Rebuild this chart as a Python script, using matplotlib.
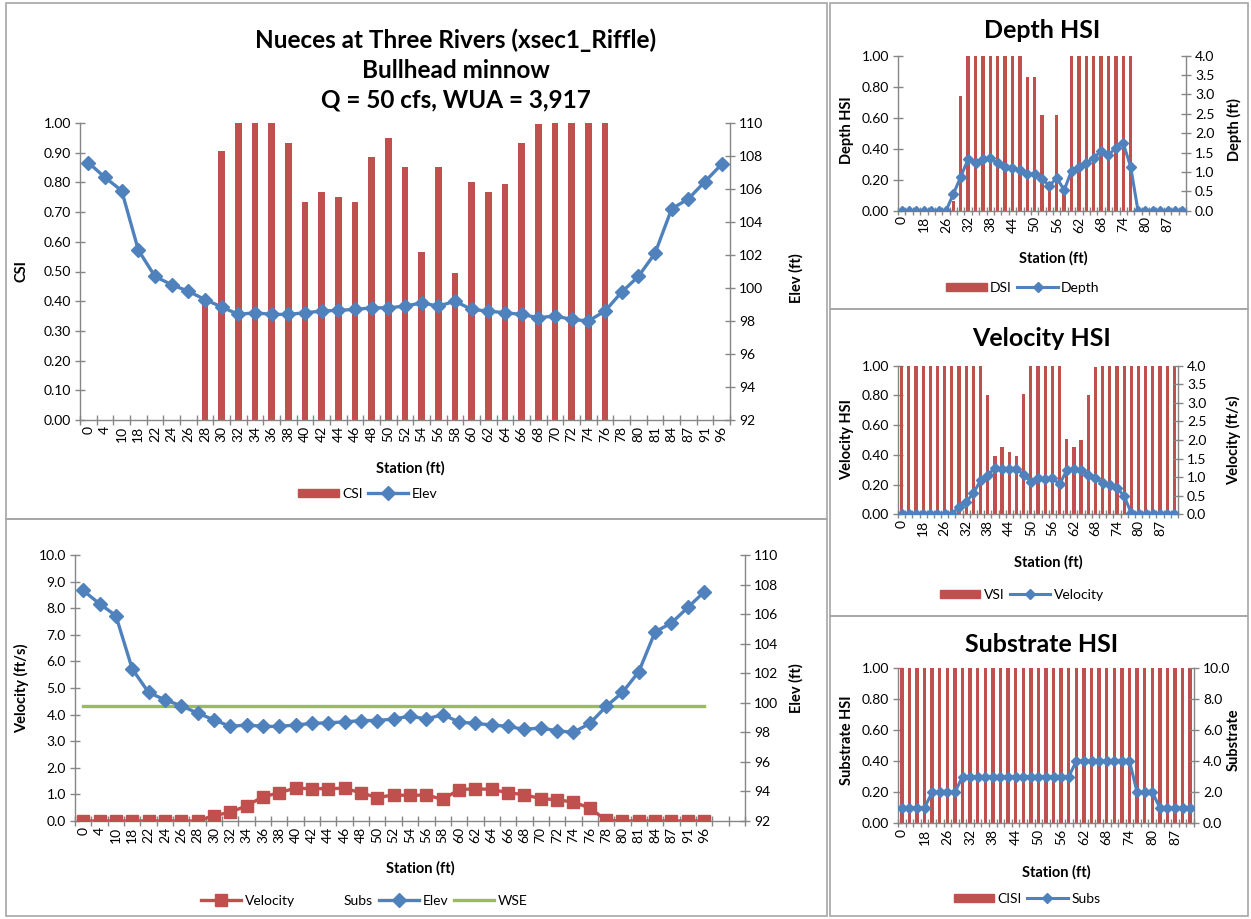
import matplotlib
matplotlib.use("Agg")
import matplotlib.pyplot as plt
import numpy as np
from matplotlib.patches import Rectangle, Patch
from matplotlib.lines import Line2D

# ---------------- data ----------------
stations = ["0", "4", "10", "18", "22", "24", "26", "28", "30", "32", "34", "36", "38",
            "40", "42", "44", "46", "48", "50", "52", "54", "56", "58", "60", "62", "64",
            "66", "68", "70", "72", "74", "76", "78", "80", "81", "84", "87", "91", "96"]

elev = [107.6, 106.7, 105.9, 102.3, 100.7, 100.2, 99.8, 99.3, 98.85, 98.4, 98.5, 98.4, 98.4,
        98.5, 98.6, 98.65, 98.7, 98.8, 98.8, 98.9, 99.1, 98.9, 99.2, 98.7, 98.6, 98.5,
        98.4, 98.2, 98.3, 98.1, 98.0, 98.6, 99.75, 100.7, 102.1, 104.8, 105.4, 106.45, 107.5]

csi = [0, 0, 0, 0, 0, 0, 0, 0.39, 0.905, 1.0, 1.0, 1.0, 0.933,
       0.733, 0.767, 0.75, 0.733, 0.886, 0.951, 0.851, 0.566, 0.851, 0.494, 0.803, 0.766, 0.794,
       0.932, 0.997, 1.0, 1.0, 1.0, 1.0, 0, 0, 0, 0, 0, 0, 0]

dsi = [0, 0, 0, 0, 0, 0, 0, 0.06, 0.74, 1.0, 1.0, 1.0, 1.0,
       1.0, 1.0, 1.0, 1.0, 0.86, 0.86, 0.62, 0.18, 0.62, 0.12, 1.0, 1.0, 1.0,
       1.0, 1.0, 1.0, 1.0, 1.0, 1.0, 0, 0, 0, 0, 0, 0, 0]

depth = [0, 0, 0, 0, 0, 0, 0, 0.43, 0.88, 1.33, 1.24, 1.33, 1.35,
         1.22, 1.14, 1.09, 1.05, 0.94, 0.95, 0.83, 0.64, 0.85, 0.53, 1.03, 1.14, 1.24,
         1.35, 1.55, 1.43, 1.63, 1.74, 1.14, 0, 0, 0, 0, 0, 0, 0]

vsi = [1.0, 1.0, 1.0, 1.0, 1.0, 1.0, 1.0, 1.0, 1.0, 1.0, 1.0, 1.0, 0.80,
       0.39, 0.45, 0.42, 0.39, 0.81, 1.0, 1.0, 1.0, 1.0, 1.0, 0.51, 0.45, 0.50,
       0.80, 0.99, 1.0, 1.0, 1.0, 1.0, 1.0, 1.0, 1.0, 1.0, 1.0, 1.0, 1.0]

velocity = [0, 0, 0, 0, 0, 0, 0, 0, 0.2, 0.33, 0.57, 0.91, 1.06,
            1.24, 1.21, 1.22, 1.23, 1.06, 0.88, 0.98, 0.96, 0.98, 0.81, 1.18, 1.21, 1.19,
            1.06, 0.99, 0.84, 0.80, 0.71, 0.49, 0.03, 0, 0, 0, 0, 0, 0]

cisi = [1.0, 1.0, 1.0, 1.0, 1.0, 1.0, 1.0, 1.0, 1.0, 1.0, 1.0, 1.0, 1.0,
        1.0, 1.0, 1.0, 1.0, 1.0, 1.0, 1.0, 1.0, 1.0, 1.0, 1.0, 1.0, 1.0,
        1.0, 1.0, 1.0, 1.0, 1.0, 1.0, 1.0, 1.0, 1.0, 1.0, 1.0, 1.0, 1.0]

subs = [1, 1, 1, 1, 2, 2, 2, 2, 3, 3, 3, 3, 3,
        3, 3, 3, 3, 3, 3, 3, 3, 3, 3, 4, 4, 4,
        4, 4, 4, 4, 4, 2, 2, 2, 1, 1, 1, 1, 1]

wse = 99.77

title_lines = ["Nueces at Three Rivers (xsec1_Riffle)", "Bullhead minnow",
               "Q = 50 cfs, WUA = 3,917"]

# ---------------- styling ----------------
RED = "#C0504D"
BLUE = "#4F81BD"
GREEN = "#9BBB59"
AXC = "#868686"
BORDER = "#A6A6A6"
FONT = ["Lato", "DejaVu Sans"]
plt.rcParams["font.family"] = FONT

W, H = 1251, 919
fig = plt.figure(figsize=(W / 100, H / 100), dpi=100)
fig.patch.set_facecolor("white")


def fx(px):
    return px / W


def fy(py):
    return 1 - py / H


def add_axes(x0, y0, x1, y1):
    return fig.add_axes([fx(x0), fy(y1), fx(x1) - fx(x0), (y1 - y0) / H])


def style_axes(ax, ax2, ncat, labels, every=1, fs=10):
    for a in (ax, ax2):
        a.set_facecolor("none")
        a.spines["top"].set_visible(False)
        for s in ("left", "right", "bottom"):
            a.spines[s].set_color(AXC)
            a.spines[s].set_linewidth(1.0)
        a.tick_params(axis="y", colors="black", labelsize=fs, direction="inout",
                      length=7, width=1, color=AXC, pad=3)
    ax.spines["right"].set_visible(False)
    ax2.spines["left"].set_visible(False)
    ax2.spines["bottom"].set_visible(False)
    ax.set_xlim(-0.5, ncat - 0.5)
    centers = np.arange(ncat)
    shown = [i for i in centers if i % every == 0]
    ax.set_xticks(shown)
    ax.set_xticklabels([labels[i] if i < len(labels) else "" for i in shown],
                       rotation=90, fontsize=fs)
    ax.set_xticks(np.arange(ncat + 1) - 0.5, minor=True)
    ax.tick_params(axis="x", which="major", length=0, pad=4)
    ax.tick_params(axis="x", which="minor", direction="inout", length=7, width=1, color=AXC)


LEG = dict(loc="center", frameon=False, fontsize=10, handlelength=2.9, handleheight=0.55,
           columnspacing=0.4, handletextpad=0.25)

# ---------------- panel borders ----------------
for (x0, y0, x1, y1) in [(6, 3, 827, 519), (6, 519, 827, 916),
                         (830, 3, 1248, 309), (830, 309, 1248, 616), (830, 616, 1248, 916)]:
    fig.add_artist(Rectangle((fx(x0), fy(y1)), fx(x1) - fx(x0), (y1 - y0) / H,
                             transform=fig.transFigure, fill=False,
                             edgecolor=BORDER, linewidth=1.2))

n = len(stations)
idx = np.arange(n)

# ---------------- main chart: CSI and elevation ----------------
ax = add_axes(80, 123, 730, 420)
ax2 = ax.twinx()
ax.bar(idx, csi, width=0.4, color=RED, zorder=2)
ax.set_ylim(0, 1.0)
ax.set_yticks(np.arange(0, 1.001, 0.1))
ax.set_yticklabels([f"{v:.2f}" for v in np.arange(0, 1.001, 0.1)])
ax2.plot(idx, elev, color=BLUE, lw=2.4, marker="D", ms=7.5, zorder=3)
ax2.set_ylim(92, 110)
ax2.set_yticks(np.arange(92, 111, 2))
style_axes(ax, ax2, n, stations)

for i, t in enumerate(title_lines):
    fig.text(fx(456), fy(40 + 30 * i), t, ha="center", va="center",
             fontsize=17.5, fontweight="bold")
fig.text(fx(22), fy(271), "CSI", rotation=90, ha="center", va="center",
         fontsize=10.5, fontweight="bold")
fig.text(fx(796), fy(278), "Elev (ft)", rotation=90, ha="center", va="center",
         fontsize=10.5, fontweight="bold")
fig.text(fx(410), fy(468), "Station (ft)", ha="center", va="center",
         fontsize=10.5, fontweight="bold")
fig.legend([Patch(color=RED), Line2D([], [], color=BLUE, lw=2.4, marker="D", ms=7)],
           ["CSI", "Elev"], bbox_to_anchor=(fx(368), fy(494)), ncol=2, **LEG)

# ---------------- bottom chart: velocity, elevation, WSE ----------------
nb = n + 2
bx = add_axes(75, 555, 745, 821)
bx2 = bx.twinx()
bx.plot(idx, velocity, color=RED, lw=2.4, marker="s", ms=8.5, zorder=3)
bx.set_ylim(0, 10)
bx.set_yticks(np.arange(0, 10.01, 1))
bx.set_yticklabels([f"{v:.1f}" for v in np.arange(0, 10.01, 1)])
bx2.plot(idx, elev, color=BLUE, lw=2.4, marker="D", ms=7.5, zorder=3)
bx2.plot(idx, np.full(n, wse), color=GREEN, lw=2.4, zorder=2)
bx2.set_ylim(92, 110)
bx2.set_yticks(np.arange(92, 111, 2))
style_axes(bx, bx2, nb, stations)
fig.text(fx(22), fy(688), "Velocity (ft/s)", rotation=90, ha="center", va="center",
         fontsize=10.5, fontweight="bold")
fig.text(fx(796), fy(688), "Elev (ft)", rotation=90, ha="center", va="center",
         fontsize=10.5, fontweight="bold")
fig.text(fx(420), fy(868), "Station (ft)", ha="center", va="center",
         fontsize=10.5, fontweight="bold")
fig.legend([Line2D([], [], color=RED, lw=2.4, marker="s", ms=8),
            Line2D([], [], color="none"),
            Line2D([], [], color=BLUE, lw=2.4, marker="D", ms=7),
            Line2D([], [], color=GREEN, lw=2.4)],
           ["Velocity", "Subs", "Elev", "WSE"],
           bbox_to_anchor=(fx(364), fy(901)), ncol=4, **LEG)

# ---------------- right-hand HSI panels ----------------
panels = [
    dict(box=(898, 55.7, 1186, 210.7), bars=dsi, line=depth, ylim2=(0, 4.0), step2=0.5,
         title="Depth HSI", ty=31, yl="Depth HSI", yl2="Depth (ft)", ly=130,
         sy=258, sx=1053, legy=288, legx=1023, names=["DSI", "Depth"]),
    dict(box=(898, 365.7, 1178, 514.3), bars=vsi, line=velocity, ylim2=(0, 4.0), step2=0.5,
         title="Velocity HSI", ty=338, yl="Velocity HSI", yl2="Velocity (ft/s)", ly=440,
         sy=562, sx=1048, legy=595, legx=1022, names=["VSI", "Velocity"]),
    dict(box=(898, 667.7, 1194, 823.3), bars=cisi, line=subs, ylim2=(0, 10.0), step2=2.0,
         title="Substrate HSI", ty=645, yl="Substrate HSI", yl2="Substrate", ly=740,
         sy=872, sx=1056, legy=899, legx=1027, names=["CISI", "Subs"]),
]

for p in panels:
    pa = add_axes(*p["box"])
    pb = pa.twinx()
    pa.bar(idx, p["bars"], width=0.45, color=RED, zorder=2)
    pa.set_ylim(0, 1.0)
    pa.set_yticks(np.arange(0, 1.001, 0.2))
    pa.set_yticklabels([f"{v:.2f}" for v in np.arange(0, 1.001, 0.2)])
    pb.plot(idx, p["line"], color=BLUE, lw=2.2, marker="D", ms=5.5, zorder=3)
    lo, hi = p["ylim2"]
    pb.set_ylim(lo, hi)
    ticks2 = np.arange(lo, hi + 1e-6, p["step2"])
    pb.set_yticks(ticks2)
    pb.set_yticklabels([f"{v:.1f}" for v in ticks2])
    style_axes(pa, pb, n, stations, every=3)
    pa.tick_params(axis="x", which="minor", length=6)
    fig.text(fx(1042), fy(p["ty"]), p["title"], ha="center", va="center",
             fontsize=18, fontweight="bold")
    fig.text(fx(847), fy(p["ly"]), p["yl"], rotation=90, ha="center", va="center",
             fontsize=10.5, fontweight="bold")
    fig.text(fx(1234), fy(p["ly"]), p["yl2"], rotation=90, ha="center", va="center",
             fontsize=10.5, fontweight="bold")
    fig.text(fx(p["sx"]), fy(p["sy"]), "Station (ft)", ha="center", va="center",
             fontsize=10.5, fontweight="bold")
    fig.legend([Patch(color=RED), Line2D([], [], color=BLUE, lw=2.2, marker="D", ms=5.5)],
               p["names"], bbox_to_anchor=(fx(p["legx"]), fy(p["legy"])), ncol=2, **LEG)

fig.savefig("out.png", dpi=100)
